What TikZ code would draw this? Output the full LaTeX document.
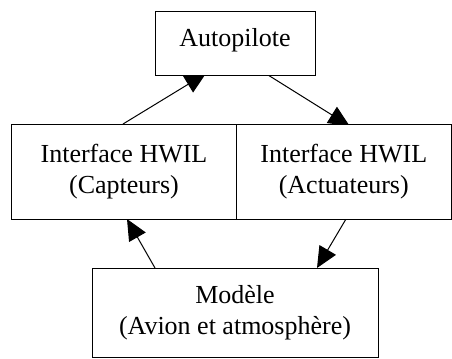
\documentclass[tikz,border=0pt]{standalone}
\usepackage{fontspec}
\setmainfont{Liberation Serif}
\usetikzlibrary{arrows.meta,backgrounds}
\tikzset{
  blockbox/.style={draw, fill=white, line width=1bp, inner sep=0pt, outer sep=0pt,
    align=center, font=\fontsize{26bp}{31.5bp}\selectfont},
  flow/.style={line width=1bp, -{Triangle[length=21bp,width=19bp]}}
}
\begin{document}
\begin{tikzpicture}[x=1bp,y=1bp]
  \useasboundingbox (0,0) rectangle (452,358);
  % blocks of the HWIL loop
  \node[blockbox, minimum width=160bp, minimum height=63bp,
        text height=17.8bp, text depth=11.6bp] (auto) at (235,314.5) {Autopilote};
  \node[blockbox, minimum width=224bp, minimum height=95bp] (cap) at (124,186.5) {Interface HWIL\\(Capteurs)};
  \node[blockbox, minimum width=215.5bp, minimum height=95bp] (act) at (343.75,186.5) {Interface HWIL\\(Actuateurs)};
  \node[blockbox, minimum width=286bp, minimum height=89bp] (mod) at (235,45.5) {Modèle\\(Avion et atmosphère)};
  % loop connectors, kept behind the blocks
  \begin{pgfonlayer}{background}
    \draw[flow] ([xshift=-1bp]cap.north) -- ([xshift=-29bp,yshift=1.6bp]auto.south);
    \draw[flow] ([xshift=33bp]auto.south) -- ([xshift=5.9bp,yshift=-2bp]act.north);
    \draw[flow] ([xshift=2.25bp]act.south) -- ([xshift=82bp]mod.north);
    \draw[flow] ([xshift=-80bp]mod.north) -- ([xshift=3bp]cap.south);
  \end{pgfonlayer}
\end{tikzpicture}
\end{document}
